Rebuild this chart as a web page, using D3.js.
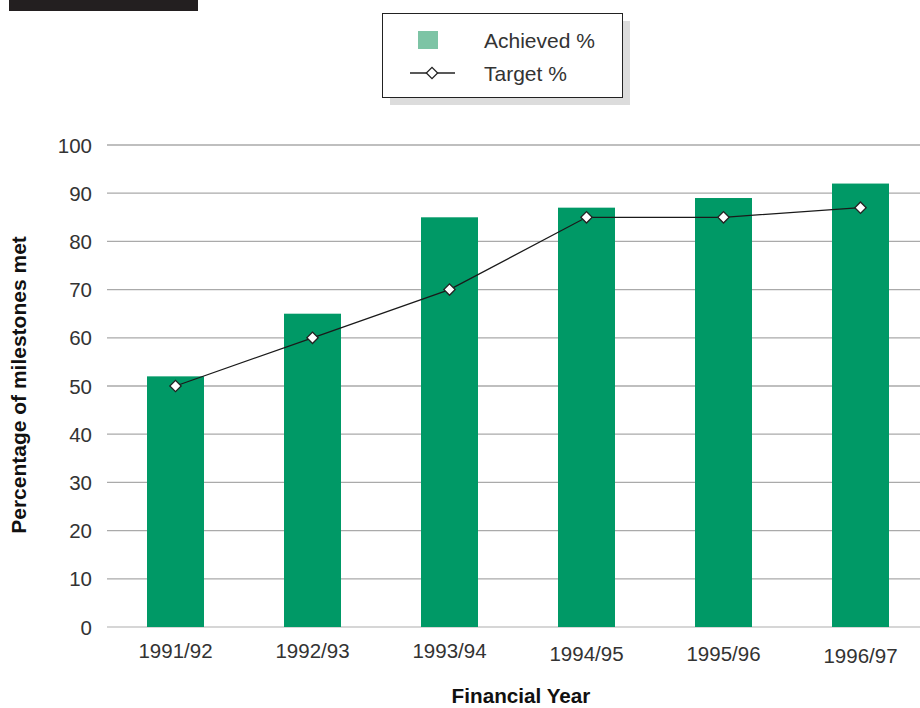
<!DOCTYPE html>
<html><head><meta charset="utf-8">
<script src="https://cdn.jsdelivr.net/npm/d3@7"></script>
<style>body{margin:0;background:#fff}svg{display:block;font-family:"Liberation Sans",Arial,sans-serif}</style>
</head><body>
<svg id="c" width="920" height="708"></svg>
<script>
const years = ["1991/92","1992/93","1993/94","1994/95","1995/96","1996/97"];
const achieved = [52, 65, 85, 87, 89, 92];
const target = [50, 60, 70, 85, 85, 87];
const yTicks = [0,10,20,30,40,50,60,70,80,90,100];

const svg = d3.select("#c");
const x = d3.scaleBand().domain(years).range([107, 929]).paddingInner(0.584).paddingOuter(0.292);
const y = d3.scaleLinear().domain([0,100]).range([627, 145]);

// black header strip
svg.append("rect").attr("x",9).attr("y",0).attr("width",189).attr("height",11).attr("fill","#231f20");

// gridlines
svg.append("g").selectAll("line").data(yTicks).join("line")
  .attr("x1",107).attr("x2",920).attr("y1",d=>y(d)).attr("y2",d=>y(d))
  .attr("stroke",d=>d===0?"#c8c8c8":"#aaaaaa").attr("stroke-width",1.3);

// y axis labels
const yAxis = d3.axisLeft(y).tickValues(yTicks).tickSize(0).tickPadding(0);
const ga = svg.append("g").attr("transform","translate(92,0)").call(yAxis);
ga.select(".domain").remove();
ga.selectAll("text").attr("font-size",20.5).attr("fill","#333").attr("font-family","'Liberation Sans',Arial,sans-serif").attr("dy","0.35em");

// bars
svg.append("g").selectAll("rect").data(years).join("rect")
  .attr("x",d=>x(d)).attr("width",x.bandwidth())
  .attr("y",(d,i)=>y(achieved[i])).attr("height",(d,i)=>y(0)-y(achieved[i]))
  .attr("fill","#009966");

// x axis labels
const xAxis = d3.axisBottom(x).tickSize(0).tickPadding(0);
const gx = svg.append("g").attr("transform","translate(0,651)").call(xAxis);
gx.select(".domain").remove();
gx.selectAll("text").attr("font-size",20.5).attr("fill","#333").attr("font-family","'Liberation Sans',Arial,sans-serif").attr("dy","0.35em")
  .attr("y",(d,i)=>[0,0,0,3,3,5][i]);

// target line
const cx = d=>x(d)+x.bandwidth()/2;
svg.append("path").datum(years)
  .attr("d", d3.line().x(d=>cx(d)).y((d,i)=>y(target[i])))
  .attr("fill","none").attr("stroke","#1a1a1a").attr("stroke-width",1.3);
svg.append("g").selectAll("path").data(years).join("path")
  .attr("d", d3.symbol(d3.symbolSquare, 64))
  .attr("transform",(d,i)=>`translate(${cx(d)},${y(target[i])}) rotate(45)`)
  .attr("fill","#fff").attr("stroke","#222").attr("stroke-width",1.3);

// axis titles
svg.append("text").attr("transform","translate(26,385) rotate(-90)").attr("text-anchor","middle")
  .attr("font-size",21).attr("font-weight","bold").attr("fill","#111").text("Percentage of milestones met");
svg.append("text").attr("x",521).attr("y",703).attr("text-anchor","middle")
  .attr("font-size",20.7).attr("font-weight","bold").attr("fill","#111").text("Financial Year");

// legend
const lg = svg.append("g");
lg.append("rect").attr("x",390).attr("y",21).attr("width",240).attr("height",84).attr("fill","#dcdcdc");
lg.append("rect").attr("x",382.5).attr("y",13.5).attr("width",240).attr("height",84).attr("fill","#fff").attr("stroke","#222").attr("stroke-width",1);
lg.append("rect").attr("x",418).attr("y",31).attr("width",20).attr("height",18).attr("fill","#7dc4a5");
lg.append("text").attr("x",484).attr("y",48).attr("font-size",21).attr("fill","#333").text("Achieved %");
lg.append("line").attr("x1",410).attr("x2",455).attr("y1",73).attr("y2",73).attr("stroke","#222").attr("stroke-width",1.3);
lg.append("path").attr("d", d3.symbol(d3.symbolSquare, 64)).attr("transform","translate(432,73) rotate(45)")
  .attr("fill","#fff").attr("stroke","#222").attr("stroke-width",1.3);
lg.append("text").attr("x",484).attr("y",81).attr("font-size",21).attr("fill","#333").text("Target %");
</script>
</body></html>
